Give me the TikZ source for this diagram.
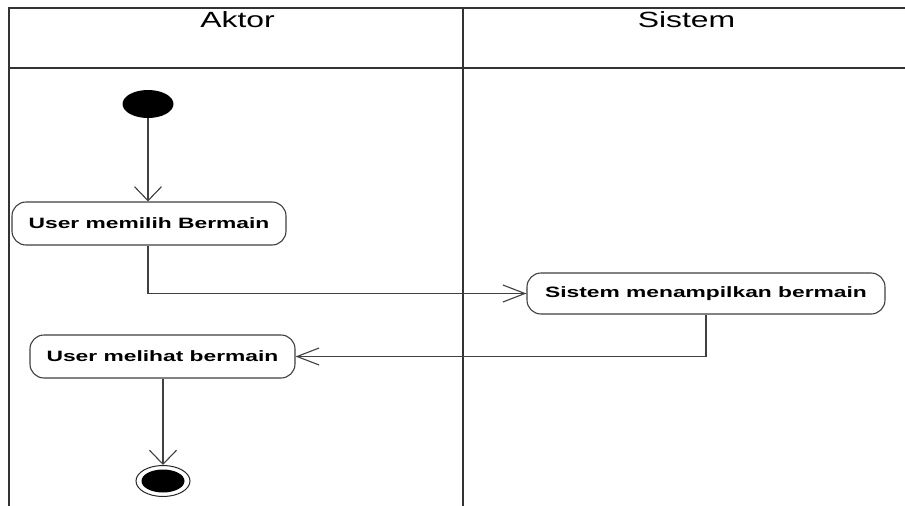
\documentclass[tikz,border=0pt]{standalone}
\usepackage{fontspec}
\setmainfont{Liberation Sans}
\usetikzlibrary{arrows.meta,shapes.geometric}
\begin{document}
\begin{tikzpicture}[x=1pt,y=-1pt,
  frame/.style={line width=2.4pt, draw=black!80},
  action/.style={draw=black!75, line width=1.1pt, rounded corners=14pt, fill=white,
    inner sep=0pt, font=\fontsize{15}{18}\selectfont\bfseries},
  flow/.style={draw=black!75, line width=1.2pt},
  vhead/.style={-{Straight Barb[length=14pt,width=27pt,line width=1.1pt]}},
  hhead/.style={-{Straight Barb[length=22pt,width=17pt,line width=1.1pt]}},
  lanetitle/.style={font=\fontsize{22}{26}\selectfont, inner sep=0pt, anchor=base},
  initial/.style={ellipse, fill=black, inner sep=0pt},
  final/.style={ellipse, draw=black!85, line width=1pt, inner sep=0pt}]

\useasboundingbox[fill=white] (0,0) rectangle (905,506);

% swimlane frame
\draw[frame] (905,8) -- (9,8) -- (9,506);
\draw[frame] (9,68) -- (905,68);
\draw[frame] (463,8) -- (463,506);

% lane titles
\node[lanetitle] (laneA) at (237.5,27.5) {\scalebox{1.45}[1]{Aktor}};
\node[lanetitle] (laneS) at (686.5,27.5) {\scalebox{1.45}[1]{Sistem}};

% activities
\node[initial, minimum width=51pt, minimum height=28pt] (start) at (148,104) {};
\node[action, minimum width=274pt, minimum height=43pt] (a1) at (149,223.5)
  {\scalebox{1.52}[1]{User memilih Bermain}};
\node[action, minimum width=358pt, minimum height=41pt] (a2) at (706,293.5)
  {\scalebox{1.52}[1]{Sistem menampilkan bermain}};
\node[action, minimum width=265pt, minimum height=43pt] (a3) at (162.5,356.5)
  {\scalebox{1.52}[1]{User melihat bermain}};
\node[final, minimum width=54pt, minimum height=31pt] (fin) at (163,481) {};
\node[initial, minimum width=43pt, minimum height=23pt] (fincore) at (fin) {};

% control flow
\draw[flow,vhead] (start.south) -- (start.south |- a1.north);
\draw[flow,hhead] (start |- a1.south) |- (a2.west);
\draw[flow,hhead] (a2.south) |- (a3.east);
\draw[flow,vhead] (a3.south -| fin.north) -- (fin.north);
\end{tikzpicture}
\end{document}
